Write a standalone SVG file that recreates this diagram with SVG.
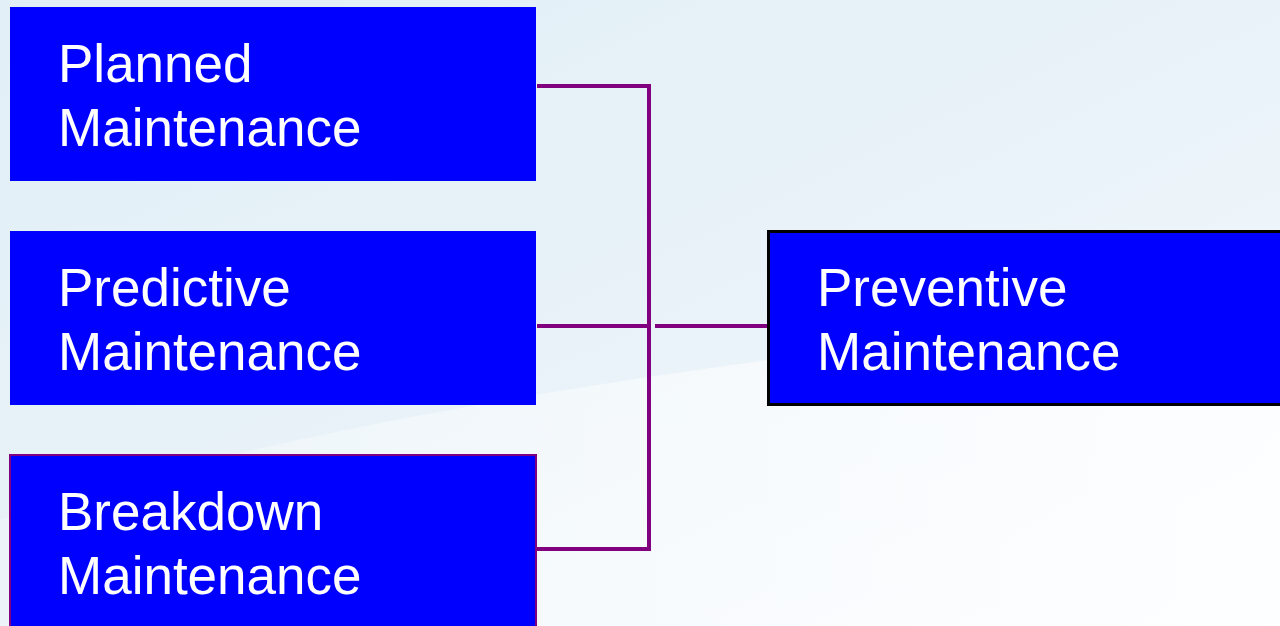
<svg xmlns="http://www.w3.org/2000/svg" width="1280" height="626" viewBox="0 0 1280 626">
<defs>
<linearGradient id="bg" x1="0" y1="0" x2="1" y2="1">
<stop offset="0" stop-color="#e2eff7"/>
<stop offset="0.5" stop-color="#e8f2f8"/>
<stop offset="1" stop-color="#f7fbfe"/>
</linearGradient>
<linearGradient id="sw" x1="0" y1="0" x2="1" y2="0">
<stop offset="0" stop-color="#ffffff" stop-opacity="0.2"/>
<stop offset="1" stop-color="#ffffff" stop-opacity="0.8"/>
</linearGradient>
<style>
.box{fill:#0000ff}
.t{font-family:"Liberation Sans",Arial,sans-serif;font-size:53px;fill:#ffffff}
.c{stroke:#800080;stroke-width:4;fill:none}
</style>
</defs>
<rect width="1280" height="626" fill="url(#bg)"/>
<path d="M0 520 C300 420 700 360 1280 300 L1280 626 L0 626 Z" fill="url(#sw)"/>
<g id="connectors">
<path class="c" d="M537 86 H649 V549 H537"/>
<path class="c" d="M537 326 H647"/>
<path class="c" d="M655 326 H767"/>
</g>
<g id="planned">
<rect class="box" x="10" y="7" width="526" height="174"/>
<text class="t" x="58" y="82">Planned</text>
<text class="t" x="58" y="146">Maintenance</text>
</g>
<g id="predictive">
<rect class="box" x="10" y="231" width="526" height="174"/>
<text class="t" x="58" y="306">Predictive</text>
<text class="t" x="58" y="370">Maintenance</text>
</g>
<g id="breakdown">
<rect class="box" x="10" y="455" width="526" height="175" stroke="#800080" stroke-width="2"/>
<text class="t" x="58" y="530">Breakdown</text>
<text class="t" x="58" y="594">Maintenance</text>
</g>
<g id="preventive">
<rect class="box" x="768.5" y="231.5" width="515" height="173" stroke="#000000" stroke-width="3"/>
<text class="t" x="817" y="306">Preventive</text>
<text class="t" x="817" y="370">Maintenance</text>
</g>
</svg>
